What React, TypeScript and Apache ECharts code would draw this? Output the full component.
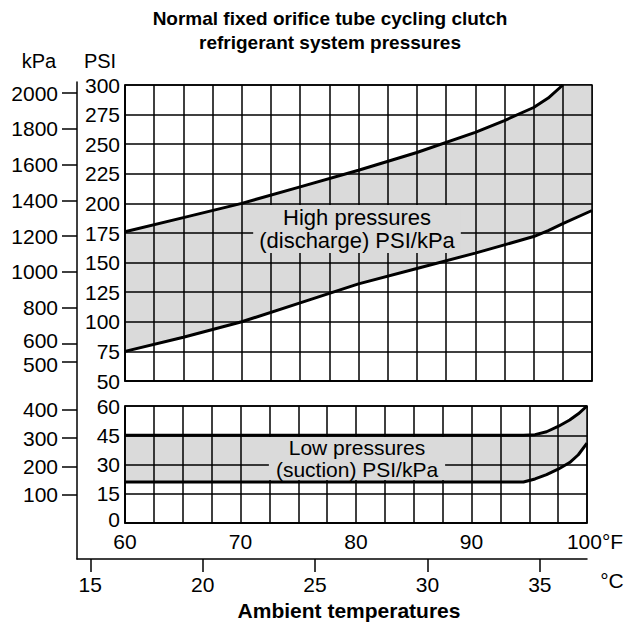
import React, { useEffect, useRef } from 'react';
import * as echarts from 'echarts';

const FONT = '"Liberation Sans", Arial, Helvetica, sans-serif';
const FILL = '#dadada';

const titleLines = ['Normal fixed orifice tube cycling clutch', 'refrigerant system pressures'];
const fahrenheitTicks = [60, 70, 80, 90, 100];
const celsiusTicks = [15, 20, 25, 30, 35];
const kpaHighTicks = [500, 600, 800, 1000, 1200, 1400, 1600, 1800, 2000];
const kpaLowTicks = [100, 200, 300, 400];

// High pressure band (PSI vs °F)
const highTemps = [60, 65, 70, 75, 80, 85, 90, 92.5, 95, 96.25, 97.5, 100];
const highUpperCurve = [176, 188, 200, 214, 228, 243, 260, 270, 281, 289, 300];
const highLower = [75, 87, 100, 116, 132, 145, 158, 165, 172, 177, 183, 194];

// Low pressure band (PSI vs °F)
const lowTemps = [60, 70, 80, 90, 94.5, 95.5, 96.5, 97.5, 98.5, 99.25, 100];
const lowUpper = [45, 45, 45, 45, 45, 45.3, 46.8, 49.5, 52.8, 56, 60];
const lowLower = [21, 21, 21, 21, 21, 22.6, 24.8, 27.6, 31, 35, 41];

const PSI_HIGH_MIN = 50, PSI_HIGH_MAX = 300, PSI_HIGH_STEP = 25;
const PSI_LOW_MIN = 0, PSI_LOW_MAX = 60, PSI_LOW_STEP = 15;
const F_MIN = 60, F_MAX = 100, F_STEP = 2.5;

export default function App() {
  const ref = useRef<HTMLDivElement>(null);
  useEffect(() => {
    const chart = echarts.init(ref.current!, null, { renderer: 'svg' });
    const black = '#000';
    const zip = (xs: number[], ys: number[]) => ys.map((y, i) => [xs[i], y]);
    const highTop = highTemps.map((t, i) => (i < highUpperCurve.length ? highUpperCurve[i] : PSI_HIGH_MAX));
    const labelStyle = { color: black, fontSize: 21, fontFamily: FONT };
    const richBase = { fontSize: 21, fontFamily: FONT, color: black };
    const gridLine = { show: true, lineStyle: { color: black, width: 1.5 } };
    const axisLine = { show: true, lineStyle: { color: black, width: 1.5 } };
    const curve = (name: string, xi: number, yi: number, data: number[][]) => ({
      name, type: 'line', xAxisIndex: xi, yAxisIndex: yi, data, symbol: 'none',
      smooth: false, lineStyle: { color: black, width: 3 }, z: 5, silent: true,
    });
    const band = (name: string, xi: number, yi: number, temps: number[], top: number[], bottom: number[]) => ({
      name, type: 'custom', xAxisIndex: xi, yAxisIndex: yi, z: 1, silent: true,
      data: [[temps[0], bottom[0]]],
      renderItem: (_p: any, api: any) => {
        const pts: number[][] = [];
        temps.forEach((t, i) => pts.push(api.coord([t, top[i]])));
        for (let i = temps.length - 1; i >= 0; i--) pts.push(api.coord([temps[i], bottom[i]]));
        return { type: 'polygon', shape: { points: pts }, style: { fill: FILL, stroke: 'none' } };
      },
    });
    // the two lowest kPa labels sit a little apart, as in the printed chart
    const kpaFormatter = (v: number) =>
      v === kpaHighTicks[0] ? `{dn|${v}}` : v === kpaHighTicks[1] ? `{up|${v}}` : `${v}`;
    const kpaAxis = (gridIndex: number, min: number, max: number, ticks: number[]) => ({
      gridIndex, z: 3, type: 'value', position: 'left', offset: 48, min, max, axisLine: { show: false },
      axisTick: { show: true, length: 15, customValues: ticks, lineStyle: { color: black, width: 1.5 } },
      axisLabel: { ...labelStyle, margin: 19, lineHeight: 18, hideOverlap: false, showMinLabel: true, showMaxLabel: true,
        customValues: ticks, formatter: kpaFormatter,
        rich: { dn: { ...richBase, lineHeight: 18, padding: [6, 0, 0, 0] }, up: { ...richBase, lineHeight: 18, padding: [0, 0, 6, 0] } } },
      splitLine: { show: false },
    });
    const kpaA = kpaHighTicks.filter((_, i) => i % 2 === 0);
    const kpaB = kpaHighTicks.filter((_, i) => i % 2 === 1);
    const option: any = {
      animation: false,
      backgroundColor: '#fff',
      grid: [
        { left: 125, top: 85, width: 467, height: 296, show: true, borderColor: black, borderWidth: 1.5 },
        { left: 125, top: 406, width: 462, height: 117, show: true, borderColor: black, borderWidth: 1.5 },
        { left: 77, top: 82, width: 510, height: 477 },
      ],
      xAxis: [
        { gridIndex: 0, z: 3, type: 'value', min: F_MIN, max: F_MAX, interval: F_STEP, axisLine, axisTick: { show: false }, axisLabel: { show: false }, splitLine: gridLine },
        { gridIndex: 1, z: 3, type: 'value', min: F_MIN, max: F_MAX, interval: F_STEP, axisLine, axisTick: { show: false },
          axisLabel: { ...labelStyle, margin: 9, lineHeight: 18, customValues: fahrenheitTicks, showMinLabel: true, showMaxLabel: true,
            formatter: (v: number) => (v === F_MAX ? `{f|${v}°F}` : `${v}`),
            rich: { f: { ...richBase, padding: [0, 0, 0, 16] } } },
          splitLine: gridLine },
        { gridIndex: 2, z: 3, type: 'value', min: 14.41, max: 37.1, axisLine,
          axisTick: { show: true, inside: false, length: 13, customValues: celsiusTicks, lineStyle: { color: black, width: 1.5 } },
          axisLabel: { ...labelStyle, margin: 15, customValues: celsiusTicks, showMinLabel: true, showMaxLabel: true, formatter: (v: number) => `${v}` },
          splitLine: { show: false } },
      ],
      yAxis: [
        { gridIndex: 0, z: 3, type: 'value', position: 'left', min: PSI_HIGH_MIN, max: PSI_HIGH_MAX, interval: PSI_HIGH_STEP, axisLine,
          axisTick: { show: false }, axisLabel: { ...labelStyle, margin: 5, showMinLabel: true, showMaxLabel: true }, splitLine: gridLine },
        kpaAxis(0, 390, 2045, kpaA),
        kpaAxis(0, 390, 2045, kpaB),
        { gridIndex: 1, z: 3, type: 'value', position: 'left', min: PSI_LOW_MIN, max: PSI_LOW_MAX, interval: PSI_LOW_STEP, axisLine,
          axisTick: { show: false },
          axisLabel: { ...labelStyle, margin: 5, lineHeight: 18, showMinLabel: true, showMaxLabel: true,
            formatter: (v: number) => (v === PSI_LOW_MIN ? `{z|${v}}` : `${v}`),
            rich: { z: { ...richBase, lineHeight: 18, padding: [0, 0, 8, 0] } } },
          splitLine: gridLine },
        kpaAxis(1, 0, PSI_LOW_MAX * 6.895, kpaLowTicks),
        { gridIndex: 2, z: 3, type: 'value', position: 'left', min: 0, max: 1, axisLine, axisTick: { show: false }, axisLabel: { show: false }, splitLine: { show: false } },
      ],
      series: [
        band('High band', 0, 0, highTemps, highTop, highLower),
        curve('High upper', 0, 0, zip(highTemps, highUpperCurve)),
        curve('High lower', 0, 0, zip(highTemps, highLower)),
        band('Low band', 1, 3, lowTemps, lowUpper, lowLower),
        curve('Low upper', 1, 3, zip(lowTemps, lowUpper)),
        curve('Low lower', 1, 3, zip(lowTemps, lowLower)),
      ],
      graphic: [
        { type: 'text', x: 330, y: 18, z: 100, style: { text: titleLines[0], font: `bold 19px ${FONT}`, fill: black, align: 'center', verticalAlign: 'middle' } },
        { type: 'text', x: 330, y: 42, z: 100, style: { text: titleLines[1], font: `bold 19px ${FONT}`, fill: black, align: 'center', verticalAlign: 'middle' } },
        { type: 'text', x: 39, y: 61, z: 100, style: { text: 'kPa', font: `20px ${FONT}`, fill: black, align: 'center', verticalAlign: 'middle' } },
        { type: 'text', x: 100, y: 61, z: 100, style: { text: 'PSI', font: `20px ${FONT}`, fill: black, align: 'center', verticalAlign: 'middle' } },
        { type: 'text', x: 612, y: 580, z: 100, style: { text: '°C', font: `21px ${FONT}`, fill: black, align: 'center', verticalAlign: 'middle' } },
        { type: 'text', x: 349, y: 610, z: 100, style: { text: 'Ambient temperatures', font: `bold 21px ${FONT}`, fill: black, align: 'center', verticalAlign: 'middle' } },
        { type: 'text', x: 357, y: 229, z: 100, style: { text: 'High pressures\n(discharge) PSI/kPa', font: `22px ${FONT}`, lineHeight: 23, fill: black,
          align: 'center', verticalAlign: 'middle', backgroundColor: FILL, padding: [1, 6] } },
        { type: 'text', x: 357, y: 458.5, z: 100, style: { text: 'Low pressures\n(suction) PSI/kPa', font: `21px ${FONT}`, lineHeight: 21.5, fill: black,
          align: 'center', verticalAlign: 'middle', backgroundColor: FILL, padding: [0, 7] } },
      ],
    };
    chart.setOption(option);
    return () => chart.dispose();
  }, []);
  return <div ref={ref} style={{ position: 'fixed', left: 0, top: 0, width: 630, height: 627, background: '#fff' }} />;
}
